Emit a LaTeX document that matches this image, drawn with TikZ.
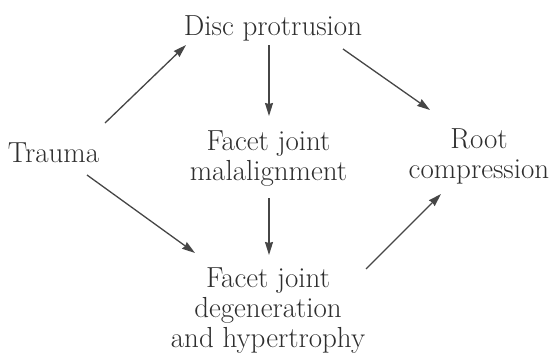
\documentclass[tikz,border=0pt]{standalone}
\usetikzlibrary{arrows.meta,calc}
\definecolor{ink}{HTML}{2E2E2E}
\definecolor{arrowc}{HTML}{464646}
\begin{document}
\begin{tikzpicture}[x=1pt,y=-1pt,
  lbl/.style={inner sep=0pt,outer sep=0pt,anchor=base,text=ink,
    font=\fontsize{29}{30}\selectfont},
  arr/.style={draw=arrowc,line width=1.3pt,
    -{Stealth[length=13pt,width=8pt,inset=1pt]}}]
\path[use as bounding box,fill=white] (0,0) rectangle (552,356);

\node[lbl] (disc) at (273,35) {Disc protrusion};
\node[lbl] (trauma) at (53.5,162) {Trauma};
\node[lbl] (mal) at (268.5,150) {\begin{tabular}[t]{@{}c@{}}Facet joint\\malalignment\end{tabular}};
\node[lbl] (root) at (479,148) {\begin{tabular}[t]{@{}c@{}}Root\\compression\end{tabular}};
\node[lbl] (degen) at (268,287) {\begin{tabular}[t]{@{}c@{}}Facet joint\\degeneration\\and hypertrophy\end{tabular}};

\draw[arr] ($(trauma.base)+(51.5,-39)$) -- ($(disc.base)+(-87,10)$);
\draw[arr] ($(disc.base)+(-4,10)$) -- ($(mal.base)+(0.5,-34)$);
\draw[arr] ($(disc.base)+(70,14)$) -- ($(root.base)+(-49,-38)$);
\draw[arr] ($(trauma.base)+(33.5,13)$) -- ($(degen.base)+(-73,-34)$);
\draw[arr] ($(mal.base)+(0.5,48)$) -- ($(degen.base)+(1,-32)$);
\draw[arr] ($(degen.base)+(98,-18)$) -- ($(root.base)+(-38,46)$);
\end{tikzpicture}
\end{document}
